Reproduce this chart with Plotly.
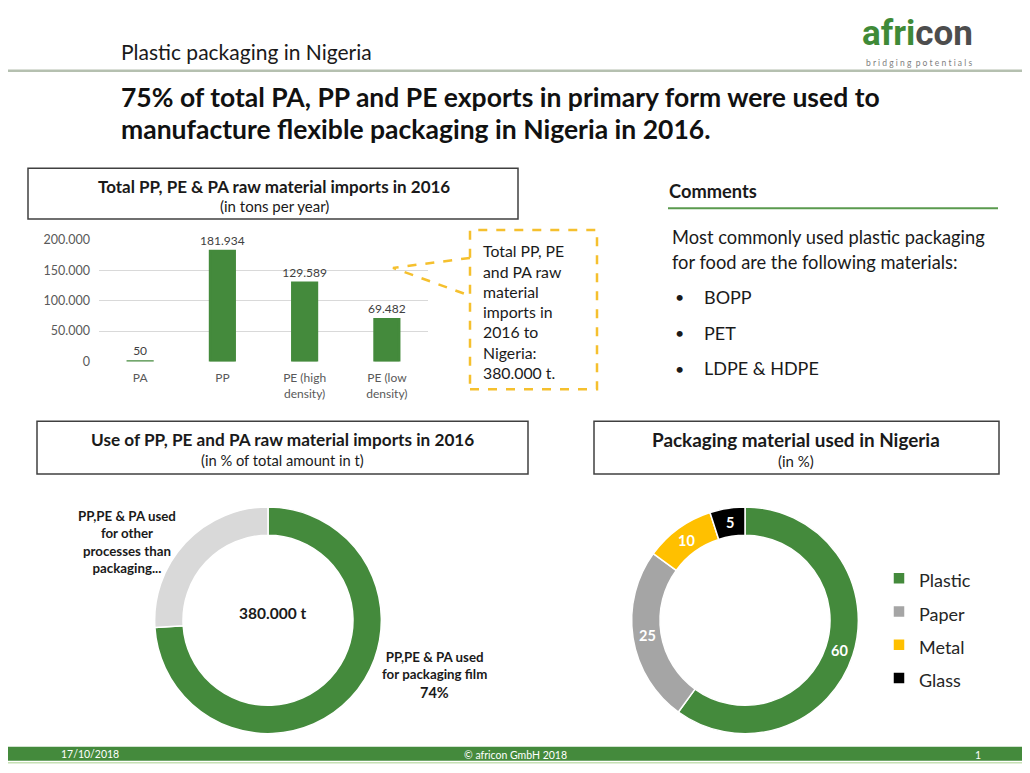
import math
import plotly.graph_objects as go

W, H = 1030, 773
GREEN = "#448a3c"
FONT = "Lato, Open Sans, sans-serif"

# bar chart data
bar_categories = ["PA", "PP", "PE (high<br>density)", "PE (low<br>density)"]
bar_values = [50, 181934, 129589, 69482]
bar_ticks = [0, 50000, 100000, 150000, 200000]

# donut 1 data
use_labels = ["PP,PE & PA used for packaging film", "PP,PE & PA used for other processes than packaging"]
use_values = [74, 26]
use_colors = [GREEN, "#d9d9d9"]

# donut 2 data
mat_labels = ["Plastic", "Paper", "Metal", "Glass"]
mat_values = [60, 25, 10, 5]
mat_colors = [GREEN, "#a5a5a5", "#ffc000", "#000000"]

callout_lines = ["Total PP, PE", "and PA raw", "material", "imports in", "2016 to", "Nigeria:", "380.000 t."]
comment_lines = ["Most commonly used plastic packaging", "for food are the following materials:"]
bullets = ["BOPP", "PET", "LDPE & HDPE"]

# the page is shown shifted (and a bit squeezed vertically), so place things in screen pixels
S, OX, OY = 0.985, 8, 14.2


def px(x):
    return (x - OX) / W


def py(y):
    return 1 - (y / S - OY) / H


fig = go.Figure()

fig.add_trace(go.Bar(
    x=bar_categories, y=bar_values,
    marker=dict(color=GREEN, line=dict(color=GREEN, width=2.5)),
    texttemplate="%{y:,}", textposition="outside", constraintext="none",
    textfont=dict(family=FONT, size=12, color="#404040"),
    cliponaxis=False, showlegend=False, width=0.3))


def pie_domain(cx, cy, r):
    r = r / 0.9925
    rx = r / W
    ry = r / S / H
    return dict(x=[px(cx) - rx, px(cx) + rx], y=[py(cy) - ry, py(cy) + ry])


fig.add_trace(go.Pie(
    labels=use_labels, values=use_values, hole=0.75, sort=False,
    direction="clockwise", rotation=0,
    marker=dict(colors=use_colors, line=dict(color="white", width=1.5)),
    textinfo="none", hoverinfo="label+percent", showlegend=False,
    domain=pie_domain(268, 621, 113)))

fig.add_trace(go.Pie(
    labels=["<span style='font-size:18px'>%s</span>" % l for l in mat_labels],
    values=mat_values, hole=0.75, sort=False,
    direction="clockwise", rotation=0,
    marker=dict(colors=mat_colors, line=dict(color="white", width=1.5)),
    textinfo="none", hoverinfo="value", showlegend=True,
    domain=pie_domain(745, 621, 113)))

shapes = []
ann = []


def text(x, y, s, size=12, color="#1a1a1a", bold=False, xanchor="left", yanchor="middle", family=FONT):
    ann.append(dict(x=px(x), y=py(y), xref="paper", yref="paper", text="<b>%s</b>" % s if bold else s,
                    showarrow=False, xanchor=xanchor, yanchor=yanchor, align=xanchor if xanchor != "center" else "center",
                    font=dict(family=family, size=size, color=color)))


def box(x0, y0, x1, y1, color="#404040", width=1.5, dash=None):
    shapes.append(dict(type="rect", xref="paper", yref="paper", x0=px(x0), x1=px(x1), y0=py(y1), y1=py(y0),
                       line=dict(color=color, width=width, dash=dash), fillcolor="rgba(0,0,0,0)"))


# header
text(119, 50, "Plastic packaging in Nigeria", size=21, color="#1a1a1a")
ann.append(dict(x=px(975), y=py(54), xref="paper", yref="paper", showarrow=False, xanchor="right", yanchor="bottom",
                text="<b><span style='color:#3f8a37'>afri</span><span style='color:#4d4d4d'>con</span></b>",
                font=dict(family="Liberation Sans Narrow, Roboto, sans-serif", size=35)))
text(974, 54, "b r i d g i n g  p o t e n t i a l s", size=8.5, color="#808080", xanchor="right", yanchor="top")
shapes.append(dict(type="line", xref="paper", yref="paper", x0=-0.01, x1=1, y0=py(69), y1=py(69),
                   line=dict(color="#b5c0b0", width=2.5)))
text(119, 95, "75% of total PA, PP and PE exports in primary form were used to", size=26.5, bold=True, color="#111111")
text(119, 127, "manufacture flexible packaging in Nigeria in 2016.", size=26.5, bold=True, color="#111111")

# bar chart header box
box(28, 167, 518, 218)
text(274, 185, "Total PP, PE & PA raw material imports in 2016", size=17, bold=True, xanchor="center")
text(274, 205, "(in tons per year)", size=15, xanchor="center")

# callout
box(470, 229, 597, 389, color="#f5c02e", width=2.5, dash="dash")
shapes.append(dict(type="path", xref="paper", yref="paper",
                   path="M %f %f L %f %f L %f %f" % (px(470), py(257), px(393), py(267), px(470), py(295)),
                   line=dict(color="#f5c02e", width=2.5, dash="dash")))
for i, s in enumerate(callout_lines):
    text(481, 250 + i * 20.3, s, size=15.8, color="#1a1a1a")

# comments
text(667, 190, "<b>Comments</b>", size=18.3)
shapes.append(dict(type="line", xref="paper", yref="paper", x0=px(668), x1=px(998), y0=py(207), y1=py(207),
                   line=dict(color="#5a9a4e", width=2)))
for i, s in enumerate(comment_lines):
    text(670, 236 + i * 25, s, size=18.3)
for i, s in enumerate(bullets):
    text(673, 296 + i * 36, "•", size=16)
    text(702, 296 + i * 36, s, size=18)

# donut 1
box(37, 421, 528, 474)
text(282, 439, "Use of PP, PE and PA raw material imports in 2016", size=17.2, bold=True, xanchor="center")
text(282, 460, "(in % of total amount in t)", size=14.7, xanchor="center")
text(272, 614, "380.000 t", size=15.5, bold=True, xanchor="center")
text(127, 542, "PP,PE & PA used<br>for other<br>processes than<br>packaging...", size=13.3, bold=True,
     xanchor="center")
text(434, 666, "PP,PE & PA used<br>for packaging film", size=13.3, bold=True, xanchor="center")
text(434, 694, "%d%%" % use_values[0], size=14.5, bold=True, xanchor="center")

# donut 2
box(594, 421, 999, 474)
text(796, 439, "Packaging material used in Nigeria", size=18.9, bold=True, xanchor="center")
text(796, 461, "(in %)", size=15, xanchor="center")
cum = 0
total = sum(mat_values)
for v in mat_values:
    a = math.radians((cum + v / 2) / total * 360)
    cum += v
    text(745 + 99 * math.sin(a), 621 - 99 * math.cos(a), str(v), size=14.5, bold=True,
         color="white", xanchor="center")

# footer
shapes.append(dict(type="rect", xref="paper", yref="paper", x0=-0.01, x1=1, y0=py(762), y1=py(748),
                   fillcolor=GREEN, line=dict(width=0)))
shapes.append(dict(type="line", xref="paper", yref="paper", x0=-0.01, x1=1, y0=py(764), y1=py(764),
                   line=dict(color="#c6e0b4", width=1.5)))
text(90, 755, "17/10/2018", size=10.5, color="white", xanchor="center")
text(515, 756, "© africon GmbH 2018", size=10.5, color="white", xanchor="center")
text(978, 756, "1", size=10.5, color="white", xanchor="center")

fig.update_layout(
    width=W, height=H,
    margin=dict(l=0, r=0, t=0, b=0),
    paper_bgcolor="white", plot_bgcolor="white",
    separators=",.",
    font=dict(family=FONT),
    bargap=0.68,
    xaxis=dict(domain=[px(99), px(428)], showgrid=False, showline=False, ticks="",
               ticklabelstandoff=8,
               tickfont=dict(family=FONT, size=12, color="#595959"), fixedrange=True),
    yaxis=dict(domain=[py(361), py(239)], range=[0, 200000], tickvals=bar_ticks, tickformat=",d",
               gridcolor="#d9d9d9", zeroline=False, showline=False, ticklabelstandoff=8,
               tickfont=dict(family=FONT, size=12.5, color="#595959"), fixedrange=True),
    legend=dict(x=px(879), y=py(557), xanchor="left", yanchor="top",
                font=dict(family=FONT, size=23.3, color="#262626"), bgcolor="rgba(0,0,0,0)"),
    shapes=shapes, annotations=ann)

fig.write_html("out.html")
